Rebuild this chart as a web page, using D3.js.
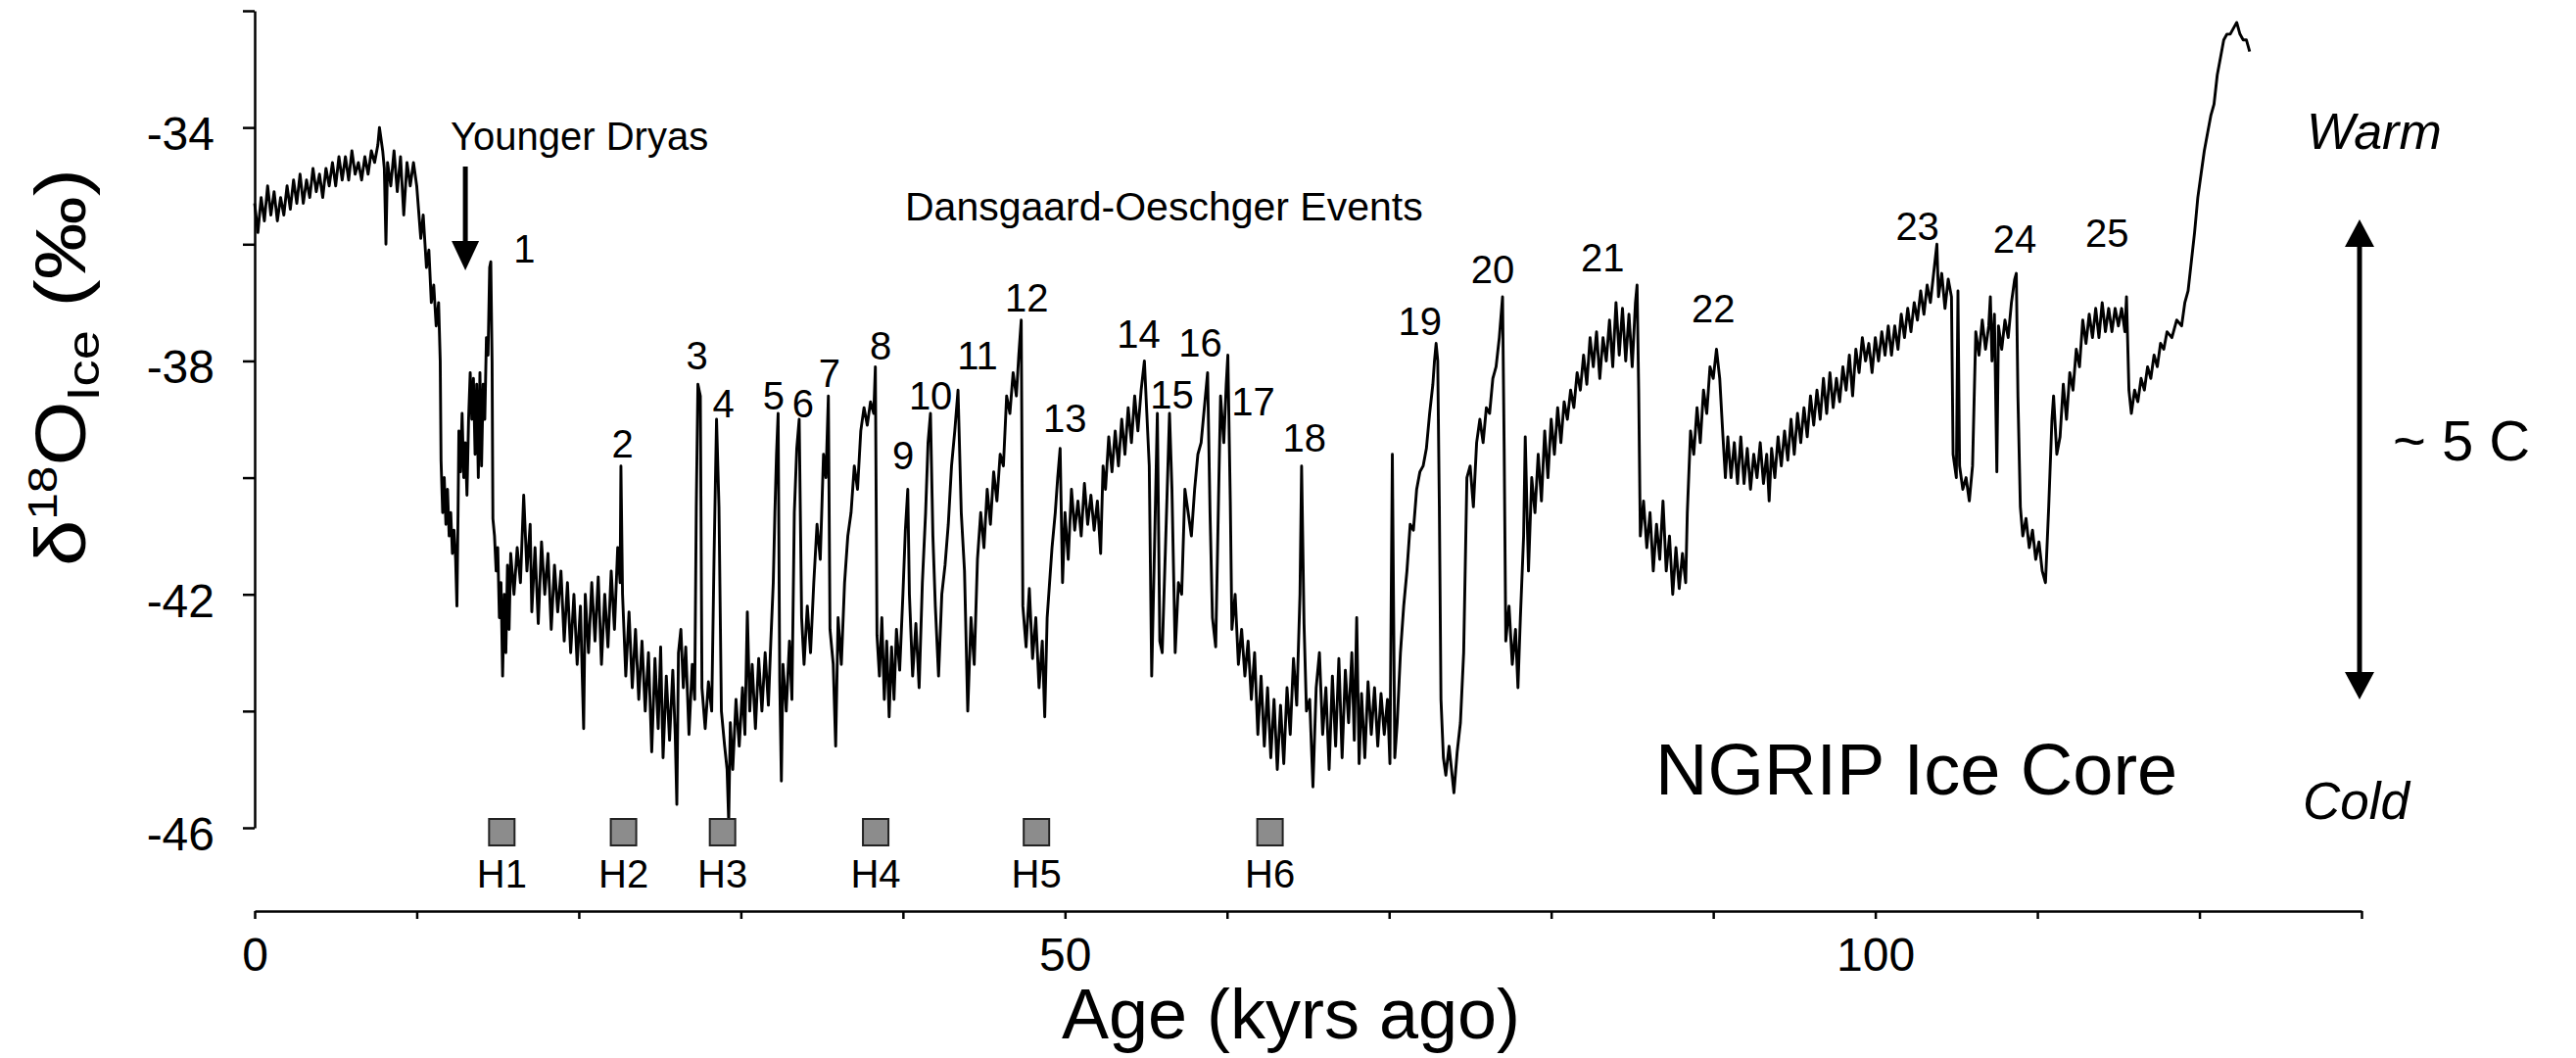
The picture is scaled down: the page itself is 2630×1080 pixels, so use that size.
<!DOCTYPE html>
<html>
<head>
<meta charset="utf-8">
<script src="https://cdn.jsdelivr.net/npm/d3@7"></script>
<style>
  html, body { margin: 0; padding: 0; background: #fff; }
  svg { display: block; font-family: "Liberation Sans", Arial, sans-serif; }
</style>
</head>
<body>
<svg id="chart" width="2630" height="1080"></svg>
<script>
// ---------------- DATA ----------------
// NGRIP δ18O record: [age (kyr ago), δ18O (‰)]
const ngripSeries = [
[0.0,-35.3],[0.2,-35.8],[0.4,-35.2],[0.6,-35.6],[0.8,-35.0],[1.0,-35.5],[1.2,-35.1],[1.4,-35.6],[1.6,-35.2],[1.8,-35.5],
[2.0,-35.0],[2.2,-35.4],[2.4,-34.9],[2.6,-35.3],[2.8,-34.8],[3.0,-35.3],[3.2,-34.9],[3.4,-35.2],[3.6,-34.7],[3.8,-35.1],
[4.0,-34.8],[4.2,-35.2],[4.4,-34.7],[4.6,-35.0],[4.8,-34.6],[5.0,-35.0],[5.2,-34.5],[5.4,-34.9],[5.6,-34.5],[5.8,-34.9],
[6.0,-34.4],[6.2,-34.8],[6.4,-34.6],[6.6,-34.9],[6.8,-34.5],[7.0,-34.8],[7.2,-34.4],[7.4,-34.6],[7.6,-34.3],[7.7,-34.0],
[7.9,-34.4],[8.0,-34.7],[8.1,-36.0],[8.2,-34.6],[8.4,-35.0],[8.6,-34.4],[8.8,-35.1],[9.0,-34.5],[9.2,-35.5],[9.4,-34.6],
[9.6,-35.0],[9.8,-34.6],[10.0,-35.0],[10.25,-35.9],[10.4,-35.5],[10.6,-36.4],[10.75,-36.1],[10.9,-37.0],[11.05,-36.7],[11.2,-37.4],
[11.35,-37.0],[11.45,-38.0],[11.5,-39.7],[11.6,-40.6],[11.7,-40.0],[11.8,-40.8],[11.9,-40.2],[12.0,-41.0],[12.1,-40.6],[12.2,-41.3],
[12.3,-40.9],[12.4,-41.4],[12.48,-42.2],[12.55,-40.6],[12.6,-39.2],[12.7,-39.9],[12.8,-38.9],[12.9,-40.0],[13.0,-39.4],[13.1,-40.3],
[13.2,-39.0],[13.3,-38.2],[13.4,-39.0],[13.5,-38.3],[13.6,-39.6],[13.7,-38.4],[13.8,-40.0],[13.9,-38.2],[14.0,-39.8],[14.1,-38.4],
[14.2,-39.0],[14.3,-37.6],[14.4,-37.9],[14.5,-36.4],[14.57,-36.3],[14.65,-38.0],[14.7,-40.7],[14.8,-41.0],[14.9,-41.6],[15.0,-41.2],
[15.1,-42.4],[15.2,-41.8],[15.3,-43.4],[15.4,-42.0],[15.5,-43.0],[15.6,-41.5],[15.7,-42.6],[15.8,-41.3],[16.0,-42.0],[16.2,-41.2],
[16.4,-41.8],[16.6,-40.3],[16.8,-41.6],[17.0,-40.8],[17.1,-42.3],[17.3,-41.2],[17.5,-42.5],[17.7,-41.1],[17.9,-42.0],[18.1,-41.3],
[18.3,-42.6],[18.5,-41.5],[18.7,-42.3],[18.9,-41.6],[19.1,-42.8],[19.3,-41.8],[19.5,-43.0],[19.7,-42.0],[19.9,-43.2],[20.1,-42.2],
[20.3,-44.3],[20.4,-42.0],[20.6,-43.0],[20.8,-41.8],[21.0,-42.8],[21.2,-41.7],[21.4,-43.2],[21.6,-42.0],[21.8,-42.9],[22.0,-41.6],
[22.2,-42.6],[22.4,-41.2],[22.55,-41.8],[22.6,-39.8],[22.7,-42.0],[22.9,-43.4],[23.1,-42.3],[23.3,-43.6],[23.5,-42.6],[23.7,-43.8],
[23.9,-42.8],[24.1,-44.0],[24.3,-43.0],[24.5,-44.7],[24.7,-43.1],[24.9,-44.3],[25.05,-42.9],[25.2,-44.8],[25.4,-43.4],[25.6,-44.5],
[25.8,-43.3],[25.95,-44.4],[26.05,-45.6],[26.15,-43.0],[26.3,-42.6],[26.45,-43.6],[26.6,-42.9],[26.8,-44.4],[27.0,-43.2],[27.15,-43.8],
[27.25,-40.5],[27.35,-38.4],[27.5,-38.6],[27.6,-43.6],[27.8,-44.3],[28.0,-43.5],[28.2,-44.0],[28.35,-41.3],[28.5,-39.0],[28.65,-40.5],
[28.8,-44.0],[29.0,-44.6],[29.15,-45.0],[29.25,-45.9],[29.35,-44.2],[29.5,-45.0],[29.7,-43.8],[29.9,-44.6],[30.1,-43.6],[30.25,-44.4],
[30.4,-42.3],[30.55,-44.0],[30.7,-43.2],[30.9,-44.3],[31.1,-43.1],[31.3,-44.0],[31.5,-43.0],[31.7,-43.9],[31.85,-42.8],[32.0,-41.8],
[32.1,-40.6],[32.2,-39.6],[32.3,-38.9],[32.4,-43.5],[32.5,-45.2],[32.6,-43.2],[32.8,-44.0],[33.0,-42.8],[33.15,-43.8],[33.3,-40.6],
[33.45,-39.5],[33.6,-39.0],[33.75,-42.4],[33.9,-43.2],[34.1,-42.2],[34.3,-43.0],[34.5,-41.8],[34.7,-40.8],[34.9,-41.4],[35.1,-39.6],
[35.25,-40.0],[35.4,-38.6],[35.5,-42.6],[35.7,-43.2],[35.85,-44.6],[36.0,-42.4],[36.2,-43.2],[36.4,-41.8],[36.6,-41.0],[36.8,-40.6],
[37.0,-39.8],[37.2,-40.2],[37.4,-39.2],[37.6,-38.8],[37.8,-39.1],[38.0,-38.7],[38.2,-38.9],[38.3,-38.1],[38.4,-42.7],[38.55,-43.4],
[38.7,-42.4],[38.85,-43.8],[39.0,-42.8],[39.15,-44.1],[39.3,-42.9],[39.45,-43.8],[39.6,-42.6],[39.8,-43.3],[40.0,-42.0],[40.15,-40.9],
[40.3,-40.2],[40.4,-42.0],[40.6,-43.4],[40.8,-42.5],[41.0,-43.6],[41.2,-41.8],[41.4,-40.6],[41.55,-39.4],[41.7,-38.9],[41.85,-41.0],
[42.0,-42.2],[42.2,-43.4],[42.4,-42.0],[42.6,-41.5],[42.8,-40.8],[43.0,-39.8],[43.2,-39.2],[43.4,-38.5],[43.6,-40.6],[43.8,-41.6],
[44.0,-44.0],[44.2,-42.4],[44.4,-43.2],[44.6,-41.4],[44.8,-40.6],[45.0,-41.2],[45.2,-40.2],[45.4,-40.8],[45.6,-39.9],[45.8,-40.4],
[46.0,-39.6],[46.2,-39.8],[46.4,-38.6],[46.6,-38.9],[46.8,-38.2],[47.0,-38.6],[47.15,-37.9],[47.3,-37.3],[47.4,-42.2],[47.6,-42.9],
[47.8,-41.9],[48.0,-43.1],[48.2,-42.4],[48.4,-43.6],[48.6,-42.8],[48.75,-44.1],[48.9,-42.4],[49.05,-41.8],[49.2,-41.2],[49.4,-40.6],
[49.55,-40.0],[49.7,-39.5],[49.85,-41.8],[50.0,-40.6],[50.2,-41.4],[50.4,-40.2],[50.6,-40.9],[50.8,-40.4],[51.0,-41.0],[51.2,-40.1],
[51.4,-40.8],[51.6,-40.3],[51.8,-40.9],[52.0,-40.4],[52.2,-41.3],[52.35,-39.8],[52.5,-40.2],[52.7,-39.3],[52.9,-39.9],[53.1,-39.2],
[53.3,-39.8],[53.5,-39.0],[53.7,-39.6],[53.9,-38.8],[54.1,-39.4],[54.3,-38.6],[54.5,-39.2],[54.7,-38.5],[54.9,-38.0],[55.05,-38.9],
[55.2,-39.8],[55.35,-43.4],[55.5,-41.5],[55.7,-38.9],[55.85,-42.8],[56.0,-43.0],[56.2,-41.2],[56.45,-38.9],[56.6,-40.2],[56.8,-43.0],
[57.0,-41.8],[57.2,-42.0],[57.4,-40.2],[57.6,-40.6],[57.8,-41.0],[58.0,-40.2],[58.2,-39.6],[58.4,-39.4],[58.6,-38.8],[58.8,-38.2],
[58.95,-40.6],[59.1,-42.4],[59.3,-42.9],[59.5,-40.0],[59.6,-38.6],[59.8,-39.4],[59.95,-38.4],[60.05,-37.9],[60.2,-40.4],[60.3,-42.6],
[60.5,-42.0],[60.7,-43.2],[60.9,-42.6],[61.1,-43.4],[61.3,-42.8],[61.5,-43.8],[61.7,-43.0],[61.9,-44.4],[62.1,-43.4],[62.3,-44.6],
[62.5,-43.6],[62.7,-44.8],[62.9,-43.8],[63.1,-45.0],[63.3,-43.9],[63.5,-44.9],[63.7,-43.6],[63.9,-44.4],[64.1,-43.1],[64.3,-43.9],
[64.5,-42.0],[64.6,-39.8],[64.75,-42.5],[64.9,-44.0],[65.1,-43.8],[65.3,-45.3],[65.5,-43.6],[65.7,-43.0],[65.9,-44.4],[66.1,-43.6],
[66.3,-45.0],[66.5,-43.4],[66.7,-44.6],[66.9,-43.1],[67.1,-44.8],[67.3,-43.3],[67.5,-44.2],[67.7,-43.0],[67.85,-44.5],[68.0,-42.4],
[68.15,-44.9],[68.3,-43.7],[68.5,-44.8],[68.7,-43.5],[68.9,-44.4],[69.1,-43.6],[69.3,-44.6],[69.5,-43.7],[69.7,-44.4],[69.9,-43.8],
[70.05,-44.9],[70.2,-39.6],[70.35,-44.8],[70.5,-44.2],[70.7,-43.0],[70.9,-42.2],[71.1,-41.6],[71.3,-40.8],[71.5,-40.9],[71.7,-40.2],
[71.9,-39.9],[72.1,-39.8],[72.3,-39.5],[72.5,-38.9],[72.7,-38.4],[72.8,-38.0],[72.9,-37.7],[73.0,-38.0],[73.1,-40.5],[73.2,-43.8],
[73.35,-44.8],[73.5,-45.1],[73.7,-44.6],[73.85,-45.0],[74.0,-45.4],[74.2,-44.7],[74.4,-44.2],[74.6,-43.0],[74.7,-41.5],[74.8,-40.0],
[75.0,-39.8],[75.2,-40.5],[75.4,-39.4],[75.6,-39.0],[75.8,-39.4],[76.0,-38.8],[76.2,-38.9],[76.4,-38.3],[76.6,-38.1],[76.8,-37.6],
[77.0,-36.9],[77.1,-39.5],[77.2,-42.8],[77.4,-42.2],[77.6,-43.2],[77.8,-42.6],[77.95,-43.6],[78.1,-42.4],[78.3,-41.0],[78.4,-39.3],
[78.6,-41.6],[78.8,-40.0],[79.0,-40.6],[79.2,-39.6],[79.4,-40.4],[79.6,-39.2],[79.8,-40.0],[80.0,-39.0],[80.2,-39.6],[80.4,-38.8],
[80.6,-39.4],[80.8,-38.7],[81.0,-39.0],[81.2,-38.5],[81.4,-38.8],[81.6,-38.2],[81.8,-38.5],[82.0,-37.9],[82.2,-38.4],[82.4,-37.6],
[82.6,-38.1],[82.8,-37.5],[83.0,-38.3],[83.2,-37.6],[83.4,-38.0],[83.6,-37.3],[83.8,-38.1],[84.0,-37.0],[84.2,-37.9],[84.4,-37.1],
[84.6,-38.0],[84.8,-37.2],[85.0,-38.1],[85.2,-37.0],[85.3,-36.7],[85.4,-38.5],[85.5,-41.0],[85.7,-40.4],[85.9,-41.2],[86.1,-40.6],
[86.3,-41.6],[86.5,-40.8],[86.7,-41.4],[86.9,-40.4],[87.1,-41.6],[87.3,-41.0],[87.5,-42.0],[87.7,-41.2],[87.9,-41.9],[88.1,-41.3],
[88.3,-41.8],[88.4,-40.6],[88.6,-39.2],[88.8,-39.6],[89.0,-38.8],[89.2,-39.4],[89.4,-38.5],[89.6,-38.9],[89.8,-38.1],[90.0,-38.3],
[90.2,-37.8],[90.4,-38.3],[90.6,-39.3],[90.75,-40.0],[90.9,-39.3],[91.1,-40.0],[91.3,-39.4],[91.5,-40.1],[91.7,-39.3],[91.9,-40.1],
[92.1,-39.5],[92.3,-40.2],[92.5,-39.6],[92.7,-40.0],[92.9,-39.4],[93.1,-40.1],[93.3,-39.6],[93.45,-40.4],[93.6,-39.5],[93.8,-40.0],
[94.0,-39.3],[94.2,-39.8],[94.4,-39.2],[94.6,-39.7],[94.8,-39.0],[95.0,-39.6],[95.2,-38.9],[95.4,-39.4],[95.6,-38.8],[95.8,-39.3],
[96.0,-38.6],[96.2,-39.1],[96.4,-38.5],[96.6,-39.0],[96.8,-38.3],[97.0,-38.9],[97.2,-38.2],[97.4,-38.8],[97.6,-38.3],[97.8,-38.7],
[98.0,-38.1],[98.2,-38.5],[98.4,-37.9],[98.6,-38.6],[98.8,-37.8],[99.0,-38.2],[99.2,-37.6],[99.4,-38.0],[99.6,-37.7],[99.8,-38.2],
[100.0,-37.6],[100.2,-38.0],[100.4,-37.5],[100.6,-37.9],[100.8,-37.4],[101.0,-37.9],[101.2,-37.4],[101.4,-37.8],[101.6,-37.2],[101.8,-37.6],
[102.0,-37.1],[102.2,-37.5],[102.4,-37.0],[102.6,-37.3],[102.8,-36.8],[103.0,-37.2],[103.2,-36.7],[103.4,-37.0],[103.6,-36.5],[103.8,-36.0],
[103.9,-36.9],[104.1,-36.5],[104.3,-37.1],[104.5,-36.6],[104.7,-36.9],[104.8,-39.6],[105.0,-40.0],[105.1,-36.8],[105.2,-39.8],[105.4,-40.2],
[105.6,-40.0],[105.8,-40.4],[106.0,-39.8],[106.2,-37.5],[106.4,-37.9],[106.6,-37.3],[106.8,-37.8],[107.0,-37.4],[107.1,-36.9],[107.2,-38.0],
[107.35,-37.2],[107.5,-39.9],[107.6,-37.4],[107.8,-37.8],[108.0,-37.3],[108.2,-37.6],[108.4,-37.0],[108.6,-36.6],[108.7,-36.5],[108.8,-38.6],
[108.95,-40.5],[109.1,-41.0],[109.3,-40.7],[109.5,-41.2],[109.7,-40.9],[109.9,-41.4],[110.1,-41.1],[110.3,-41.6],[110.5,-41.8],[110.7,-40.5],
[110.9,-39.0],[111.0,-38.6],[111.2,-39.6],[111.4,-39.3],[111.6,-38.4],[111.8,-39.0],[112.0,-38.2],[112.2,-38.5],[112.4,-37.8],[112.6,-38.1],
[112.8,-37.3],[113.0,-37.7],[113.2,-37.2],[113.4,-37.6],[113.6,-37.1],[113.8,-37.6],[114.0,-37.0],[114.2,-37.5],[114.4,-37.1],[114.6,-37.5],
[114.8,-37.1],[115.0,-37.4],[115.2,-37.1],[115.4,-37.5],[115.5,-36.9],[115.65,-38.5],[115.8,-38.9],[116.0,-38.5],[116.2,-38.7],[116.4,-38.3],
[116.6,-38.5],[116.8,-38.1],[117.0,-38.3],[117.2,-37.9],[117.4,-38.1],[117.6,-37.7],[117.8,-37.8],[118.0,-37.5],[118.3,-37.6],[118.6,-37.3],
[118.9,-37.4],[119.1,-37.0],[119.3,-36.8],[119.5,-36.3],[119.7,-35.8],[119.9,-35.2],[120.1,-34.8],[120.3,-34.4],[120.5,-34.1],[120.7,-33.8],
[120.9,-33.6],[121.1,-33.1],[121.3,-32.8],[121.5,-32.5],[121.7,-32.4],[121.9,-32.4],[122.1,-32.3],[122.3,-32.2],[122.5,-32.4],[122.7,-32.5],
[122.9,-32.5],[123.1,-32.7]
];

// Dansgaard-Oeschger event labels: number, label anchor age (kyr), label anchor value (‰)
const doNumbers = ["1","2","3","4","5","6","7","8","9","10","11","12","13","14","15","16","17","18","19","20","21","22","23","24","25"];
const doLabelAge = [16.65,22.7,27.3,28.93,32.02,33.84,35.47,38.62,40.01,41.71,44.61,47.64,50.0,54.54,56.6,58.35,61.62,64.77,71.91,76.39,83.17,90.01,102.6,108.6,114.3];
const doLabelValue = [-36.32,-39.66,-38.15,-38.97,-38.84,-38.97,-38.45,-37.97,-39.85,-38.84,-38.15,-37.16,-39.21,-37.78,-38.81,-37.93,-38.94,-39.55,-37.55,-36.67,-36.47,-37.34,-35.92,-36.15,-36.05];

// Heinrich events
const heinrichNames = ["H1","H2","H3","H4","H5","H6"];
const heinrichAge = [15.25,22.76,28.87,38.32,48.24,62.65];

// Axis ticks
const xTicks = [0,10,20,30,40,50,60,70,80,90,100,110,120,130];
const xTickLabels = [0,50,100];
const yTicks = [-46,-44,-42,-40,-38,-36,-34,-32];
const yTickLabels = [-34,-38,-42,-46];

// Younger Dryas marker age
const youngerDryasAge = 13.0;

// ---------------- CHART ----------------
const svg = d3.select("#chart");
const FONT = "'Liberation Sans', Arial, sans-serif";

const x = d3.scaleLinear().domain([0, 130]).range([260, 2411]);
const y = d3.scaleLinear().domain([-46, -32]).range([845, 11]);

// Y axis
const yAxis = d3.axisLeft(y)
  .tickValues(yTicks)
  .tickSize(12)
  .tickSizeOuter(0)
  .tickPadding(29)
  .tickFormat(d => yTickLabels.includes(d) ? d : "");
const gy = svg.append("g").attr("transform", "translate(260,0)").call(yAxis);
gy.select(".domain").attr("stroke", "#000").attr("stroke-width", 2.5);
gy.selectAll(".tick line").attr("stroke", "#000").attr("stroke-width", 2.5);
gy.selectAll(".tick text").attr("font-family", FONT).attr("font-size", 48).attr("fill", "#000").attr("dy", "0.47em");

// X axis
const xAxis = d3.axisBottom(x)
  .tickValues(xTicks)
  .tickSize(8)
  .tickSizeOuter(0)
  .tickPadding(19)
  .tickFormat(d => xTickLabels.includes(d) ? d : "");
const gx = svg.append("g").attr("transform", "translate(0,930)").call(xAxis);
gx.select(".domain").attr("stroke", "#000").attr("stroke-width", 2.5);
gx.selectAll(".tick line").attr("stroke", "#000").attr("stroke-width", 2.5);
gx.selectAll(".tick text").attr("font-family", FONT).attr("font-size", 48).attr("fill", "#000");

// Data line
const line = d3.line().x(d => x(d[0])).y(d => y(d[1]));
svg.append("path")
  .datum(ngripSeries)
  .attr("d", line)
  .attr("fill", "none")
  .attr("stroke", "#000")
  .attr("stroke-width", 2.9)
  .attr("stroke-linejoin", "round");

// DO labels
svg.append("g").selectAll("text")
  .data(doNumbers)
  .join("text")
  .attr("x", (d, i) => x(doLabelAge[i]))
  .attr("y", (d, i) => y(doLabelValue[i]))
  .attr("text-anchor", "middle")
  .attr("font-family", FONT)
  .attr("font-size", 40)
  .attr("fill", "#000")
  .text(d => d);

// Heinrich boxes + labels
const hb = svg.append("g").selectAll("g")
  .data(heinrichNames)
  .join("g");
hb.append("rect")
  .attr("x", (d, i) => x(heinrichAge[i]) - 13)
  .attr("y", y(-46) - 9)
  .attr("width", 26)
  .attr("height", 27)
  .attr("fill", "#8c8c8c")
  .attr("stroke", "#222")
  .attr("stroke-width", 2);
hb.append("text")
  .attr("x", (d, i) => x(heinrichAge[i]))
  .attr("y", y(-46) + 61)
  .attr("text-anchor", "middle")
  .attr("font-family", FONT)
  .attr("font-size", 40)
  .attr("fill", "#000")
  .text(d => d);

// Younger Dryas annotation
svg.append("text")
  .attr("x", 460).attr("y", 153)
  .attr("font-family", FONT).attr("font-size", 40).attr("fill", "#000")
  .text("Younger Dryas");
const ydx = x(youngerDryasAge);
svg.append("line")
  .attr("x1", ydx).attr("x2", ydx).attr("y1", 170).attr("y2", 250)
  .attr("stroke", "#000").attr("stroke-width", 5);
svg.append("path")
  .attr("d", `M${ydx - 14},246 L${ydx + 14},246 L${ydx},276 Z`)
  .attr("fill", "#000");

// Dansgaard-Oeschger Events
svg.append("text")
  .attr("x", 924).attr("y", 225)
  .attr("font-family", FONT).attr("font-size", 41).attr("fill", "#000")
  .text("Dansgaard-Oeschger Events");

// NGRIP Ice Core
svg.append("text")
  .attr("x", 1690).attr("y", 811)
  .attr("font-family", FONT).attr("font-size", 74).attr("fill", "#000")
  .text("NGRIP Ice Core");

// Warm / Cold / double arrow / ~5 C
svg.append("text")
  .attr("x", 2355).attr("y", 152)
  .attr("font-family", FONT).attr("font-size", 52).attr("font-style", "italic").attr("fill", "#000")
  .text("Warm");
svg.append("text")
  .attr("x", 2351).attr("y", 836)
  .attr("font-family", FONT).attr("font-size", 53).attr("font-style", "italic").attr("fill", "#000")
  .text("Cold");
const ax = 2409;
svg.append("line")
  .attr("x1", ax).attr("x2", ax).attr("y1", 245).attr("y2", 692)
  .attr("stroke", "#000").attr("stroke-width", 5);
svg.append("path")
  .attr("d", `M${ax - 15},252 L${ax + 15},252 L${ax},224 Z`)
  .attr("fill", "#000");
svg.append("path")
  .attr("d", `M${ax - 15},686 L${ax + 15},686 L${ax},714 Z`)
  .attr("fill", "#000");
svg.append("text")
  .attr("x", 2443).attr("y", 470)
  .attr("font-family", FONT).attr("font-size", 58).attr("fill", "#000")
  .text("~ 5 C");

// Axis titles
svg.append("text")
  .attr("x", 1318).attr("y", 1060)
  .attr("text-anchor", "middle")
  .attr("font-family", FONT).attr("font-size", 72).attr("fill", "#000")
  .text("Age (kyrs ago)");

const yt = svg.append("text")
  .attr("transform", "translate(87,375) rotate(-90) scale(1.18,1)")
  .attr("text-anchor", "middle")
  .attr("font-family", FONT).attr("font-size", 72).attr("fill", "#000");
yt.append("tspan").text("δ");
yt.append("tspan").attr("font-size", 42).attr("dy", -29).text("18");
yt.append("tspan").attr("dy", 29).text("O");
yt.append("tspan").attr("font-size", 46).attr("dy", 14).text("Ice");
yt.append("tspan").attr("dy", -14).text(" (‰)");
</script>
</body>
</html>
